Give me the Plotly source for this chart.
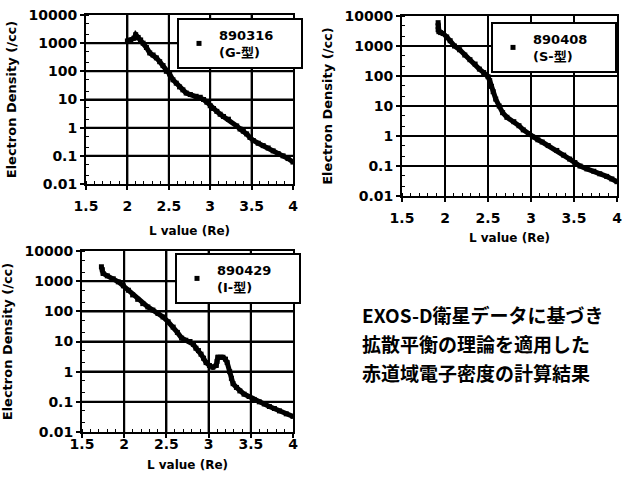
import plotly.graph_objects as go

# ---- data ----
L_316 = [2.00, 2.04, 2.08, 2.10, 2.13, 2.16, 2.19, 2.23, 2.27, 2.31, 2.35, 2.39, 2.43, 2.47, 2.51, 2.55, 2.59, 2.63, 2.67, 2.71, 2.76, 2.83, 2.88, 2.92, 2.96, 3.00, 3.04, 3.08, 3.12, 3.16, 3.22,
         3.32, 3.36, 3.40, 3.44, 3.48, 3.52, 3.58, 3.64, 3.70, 3.76, 3.82, 3.88, 3.94, 4.00]
N_316 = [1200, 1300, 1500, 2000, 1600, 1300, 1000, 700, 450, 380, 300, 220, 160, 100, 80, 50, 38, 28, 22, 17, 15, 13, 12, 10, 8, 6, 4.8, 3.8, 3.0, 2.5, 2.0,
         1.15, 0.9, 0.75, 0.6, 0.45, 0.35, 0.28, 0.23, 0.19, 0.15, 0.12, 0.10, 0.08, 0.06]

L_408 = [1.92, 1.92, 1.92, 1.93, 1.95, 1.98, 2.02, 2.06, 2.11, 2.17, 2.23, 2.29, 2.35, 2.40, 2.45, 2.50, 2.52, 2.54, 2.56, 2.59, 2.63, 2.67, 2.72, 2.80, 2.86, 2.91, 2.97, 3.02, 3.08, 3.13, 3.20, 3.30, 3.38, 3.45, 3.51, 3.57, 3.65, 3.73, 3.80, 3.88, 3.94, 4.00]
N_408 = [6000, 4500, 3500, 3000, 2800, 2600, 2000, 1500, 1000, 750, 500, 350, 250, 170, 130, 95, 70, 45, 30, 17, 10, 6, 4.2, 3.0, 2.2, 1.6, 1.2, 0.93, 0.75, 0.63, 0.48, 0.33, 0.23, 0.17, 0.13, 0.10, 0.08, 0.067, 0.055, 0.045, 0.037, 0.03]

L_429 = [1.73, 1.74, 1.75, 1.80, 1.87, 1.93, 1.99, 2.05, 2.10, 2.16, 2.22, 2.28, 2.34, 2.40, 2.46, 2.52, 2.58, 2.63, 2.68, 2.73, 2.78, 2.82, 2.85, 2.88, 2.91, 2.94, 2.97, 3.01, 3.05, 3.09, 3.10, 3.11, 3.14, 3.17, 3.20, 3.22, 3.25, 3.27, 3.29, 3.33, 3.37, 3.42, 3.48, 3.54, 3.60, 3.66, 3.72, 3.78, 3.84, 3.92, 4.00]
N_429 = [3000, 2400, 1800, 1500, 1200, 950, 700, 500, 350, 250, 180, 140, 110, 85, 65, 45, 30, 20, 13, 11, 10, 8, 6, 5, 3.8, 2.8, 2.0, 1.6, 1.4, 1.6, 2.2, 3.0, 3.0, 3.0, 2.6, 2.0, 1.0, 0.6, 0.4, 0.3, 0.23, 0.18, 0.15, 0.12, 0.10, 0.085, 0.07, 0.06, 0.05, 0.04, 0.033]

NB = "\u00a0"
names = ["890316" + NB * 5 + "<br>(G-型)", "890408" + NB * 5 + "<br>(S-型)", "890429" + NB * 5 + "<br>(I-型)"]
y_ticks = [0.01, 0.1, 1, 10, 100, 1000, 10000]
y_ticktext = ["0.01", "0.1", "1", "10", "100", "1000", "10000"]
x_ticks = [1.5, 2, 2.5, 3, 3.5, 4]
x_ticktext = ["1.5", "2", "2.5", "3", "3.5", "4"]

W, H = 626, 486
def px_x(a, b):
    return [a / W, b / W]
def px_y(top, bot):
    return [1 - bot / H, 1 - top / H]

domains = [
    (px_x(86, 293), px_y(15, 184)),
    (px_x(402, 617), px_y(16, 196)),
    (px_x(82, 293), px_y(251, 432)),
]
legend_pos = [(177 / W, 1 - 18 / H), (491 / W, 1 - 22 / H), (175 / W, 1 - 253 / H)]
xlabel_standoff = [4, 4, -6]
xtitle_standoff = [14, 9, 10]

# grid line half-thickness (about 1 px) in axis units
GX = 0.012          # in L units
GY = 10 ** 0.035    # multiplicative, in decades

FONT = "DejaVu Sans, Noto Sans CJK JP"
fig = go.Figure()
series = [(L_316, N_316), (L_408, N_408), (L_429, N_429)]
for i, (xs, ys) in enumerate(series):
    k = "" if i == 0 else str(i + 1)
    # grid lines at the tick values, drawn as thin filled bands
    for xv in x_ticks[1:-1]:
        fig.add_trace(go.Scatter(x=[xv - GX, xv + GX, xv + GX, xv - GX, xv - GX],
                                 y=[y_ticks[0], y_ticks[0], y_ticks[-1], y_ticks[-1], y_ticks[0]],
                                 mode="lines", fill="toself", fillcolor="black",
                                 line=dict(color="black", width=0), showlegend=False, hoverinfo="skip",
                                 xaxis="x" + k, yaxis="y" + k))
    for yv in y_ticks[1:-1]:
        fig.add_trace(go.Scatter(x=[x_ticks[0], x_ticks[-1], x_ticks[-1], x_ticks[0], x_ticks[0]],
                                 y=[yv / GY, yv / GY, yv * GY, yv * GY, yv / GY],
                                 mode="lines", fill="toself", fillcolor="black",
                                 line=dict(color="black", width=0), showlegend=False, hoverinfo="skip",
                                 xaxis="x" + k, yaxis="y" + k))
    fig.add_trace(go.Scatter(
        x=xs, y=ys, mode="lines+markers", name=names[i], showlegend=False,
        line=dict(color="black", width=5),
        marker=dict(symbol="square", size=5, color="black"),
        xaxis="x" + k, yaxis="y" + k,
    ))
    fig.add_trace(go.Scatter(
        x=[None], y=[None], mode="markers", name=names[i], showlegend=True,
        marker=dict(symbol="square", size=5, color="black"),
        xaxis="x" + k, yaxis="y" + k, legend="legend" + k,
    ))
    xd, yd = domains[i]
    fig.layout["xaxis" + k] = dict(
        domain=xd, range=[1.5, 4], tickmode="array", tickvals=x_ticks, ticktext=x_ticktext,
        anchor="y" + k, ticklabelstandoff=xlabel_standoff[i],
        title=dict(text="L value (Re)", font=dict(family=FONT, size=12, color="black", weight="bold"),
                   standoff=xtitle_standoff[i]),
    )
    fig.layout["yaxis" + k] = dict(
        domain=yd, type="log", range=[-2, 4], tickmode="array", tickvals=y_ticks, ticktext=y_ticktext,
        anchor="x" + k,
        title=dict(text="Electron Density (/cc)", font=dict(family=FONT, size=13, color="black", weight="bold"), standoff=9),
    )
    lx, ly = legend_pos[i]
    fig.layout["legend" + k] = dict(
        x=lx, y=ly, xanchor="left", yanchor="top", bgcolor="white",
        bordercolor="black", borderwidth=2,
        font=dict(family=FONT, size=13, color="black", weight="bold"),
    )

fig.update_xaxes(showline=True, linecolor="black", linewidth=2, mirror=True, automargin=False,
                 showgrid=True, gridcolor="black", gridwidth=2, ticklabeloverflow="allow",
                 ticks="outside", ticklen=4, tickwidth=2, tickcolor="black",
                 tickfont=dict(family=FONT, size=14, color="black", weight="bold"),
                 zeroline=False,
                 minor=dict(dtick=0.1, ticks="inside", ticklen=3, tickwidth=1, tickcolor="black", showgrid=False))
fig.update_yaxes(showline=True, linecolor="black", linewidth=2, mirror=True, automargin=False,
                 showgrid=True, gridcolor="black", gridwidth=2, ticklabeloverflow="allow",
                 ticks="outside", ticklen=4, tickwidth=2, tickcolor="black",
                 tickfont=dict(family=FONT, size=14, color="black", weight="bold"),
                 zeroline=False,
                 minor=dict(ticks="inside", ticklen=3, tickwidth=1, tickcolor="black", showgrid=False))

lines = ["EXOS-D衛星データに基づき", "拡散平衡の理論を適用した", "赤道域電子密度の計算結果"]
for j, t in enumerate(lines):
    fig.add_annotation(text=t, xref="paper", yref="paper", x=360 / W, y=1 - (314 + 29 * j) / H,
                       xanchor="left", yanchor="middle", showarrow=False,
                       font=dict(family="Noto Sans CJK JP", size=19, color="black", weight="bold"))

fig.update_layout(width=W, height=H, margin=dict(l=0, r=0, t=0, b=0, autoexpand=False),
                  paper_bgcolor="white", plot_bgcolor="rgba(0,0,0,0)", showlegend=True)
fig.write_html("out.html", config={"displayModeBar": False},
               post_script="document.body.style.margin='0px';")
